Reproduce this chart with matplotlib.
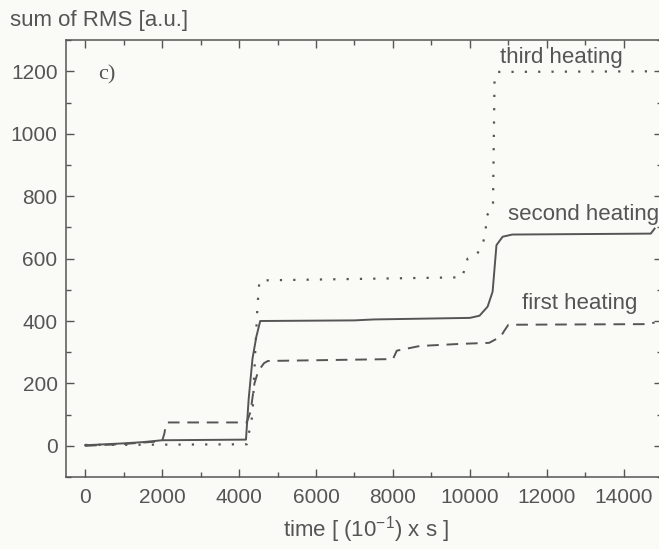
import matplotlib
matplotlib.use("Agg")
import matplotlib.pyplot as plt
from matplotlib.ticker import MultipleLocator

# --- data ---
first_t = [0, 1000, 2000, 2060, 2100, 2150, 4200, 4300, 4400, 4500, 4650, 4750, 8000, 8100, 8700, 9800, 10500, 10800, 10900, 11000, 14600, 14800]
first_v = [0, 6, 15, 40, 70, 75, 75, 110, 200, 240, 265, 272, 278, 305, 320, 327, 330, 350, 370, 388, 390, 395]

second_t = [0, 1000, 1500, 2000, 4180, 4250, 4350, 4450, 4550, 7000, 7500, 9000, 10000, 10250, 10460, 10590, 10690, 10850, 11100, 14700, 14800]
second_v = [2, 8, 12, 18, 20, 150, 280, 350, 400, 402, 405, 408, 410, 417, 446, 494, 643, 670, 677, 680, 696]

third_t = [0, 4200, 4350, 4420, 4480, 4530, 9800, 9940, 10170, 10340, 10410, 10430, 10600, 10640, 10700, 14900]
third_v = [3, 5, 100, 300, 450, 530, 540, 600, 611, 648, 691, 735, 770, 1171, 1198, 1200]

labels = ["first heating", "second heating", "third heating"]

ink = "#555555"
bg = "#fafbf6"
plt.rcParams['font.family'] = ['Liberation Sans', 'DejaVu Sans']

fig = plt.figure(figsize=(6.59, 5.49), dpi=100, facecolor=bg)
ax = fig.add_axes([0.100, 0.131, 0.905, 0.796], facecolor=bg)

ax.plot(first_t, first_v, color=ink, lw=1.4, linestyle=(0, (6, 4)))
ax.plot(second_t, second_v, color=ink, lw=1.4, linestyle='-')
ax.plot(third_t, third_v, color=ink, lw=1.6, linestyle=(0, (1, 5)))

ax.set_xlim(-500, 15000)
ax.set_ylim(-100, 1300)
ax.xaxis.set_major_locator(MultipleLocator(2000))
ax.xaxis.set_minor_locator(MultipleLocator(1000))
ax.yaxis.set_major_locator(MultipleLocator(200))
ax.yaxis.set_minor_locator(MultipleLocator(100))
ax.tick_params(which='both', direction='in', top=True, right=True, color=ink,
               labelcolor=ink, labelsize=15)
ax.tick_params(which='major', length=6, width=1)
ax.tick_params(which='minor', length=3.5, width=1)
ax.tick_params(axis='x', pad=8)
ax.tick_params(axis='y', pad=6)
for s in ax.spines.values():
    s.set_color(ink)
    s.set_linewidth(1.1)

fig.text(0.015, 0.962, "sum of RMS [a.u.]", fontsize=16, color=ink, va='center', ha='left')
fig.text(0.555, 0.035, "time [ (10$^{\\mathregular{-1}}$) x s ]", fontsize=16, color=ink, va='center', ha='center')

ax.text(330, 1190, "c)", fontsize=16, color=ink, family='Liberation Serif', va='center', ha='left')
ax.text(10790, 1245, labels[2], fontsize=16, color=ink, va='center', ha='left')
ax.text(10980, 740, labels[1], fontsize=16, color=ink, va='center', ha='left')
ax.text(11350, 455, labels[0], fontsize=16, color=ink, va='center', ha='left')

fig.savefig("out.png", dpi=100, facecolor=bg)
